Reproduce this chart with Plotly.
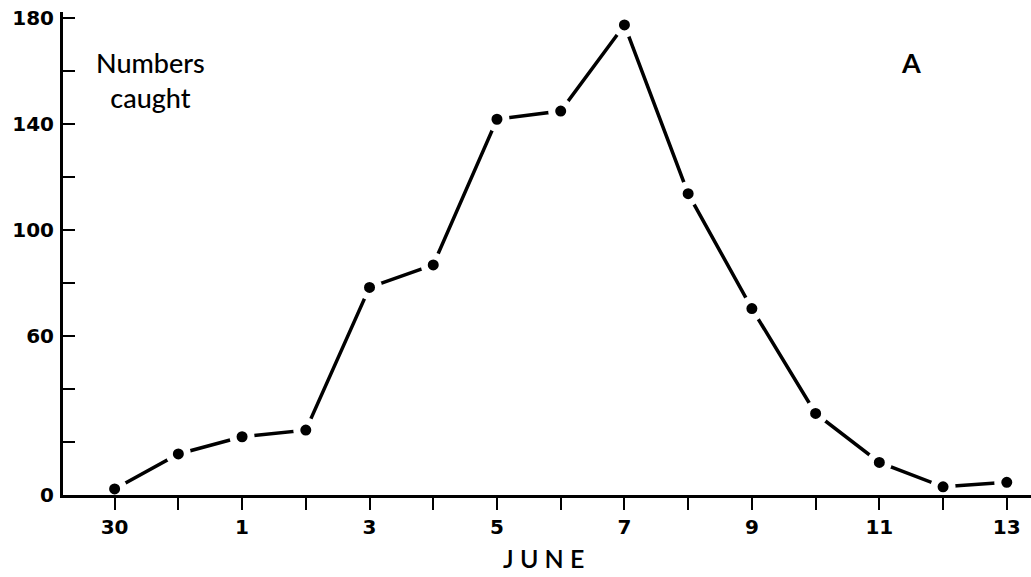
import plotly.graph_objects as go

# Data
day_labels = ["30", "31", "1", "2", "3", "4", "5", "6", "7", "8", "9", "10", "11", "12", "13"]
numbers_caught = [2.3, 15.5, 22, 24.5, 78.4, 86.9, 141.9, 145, 177.5, 113.8, 70.4, 30.8, 12.3, 3.1, 4.8]
shown_x_labels = ["30", "1", "3", "5", "7", "9", "11", "13"]
y_tick_values = [0, 20, 40, 60, 80, 100, 120, 140, 160, 180]
y_labelled = [0, 60, 100, 140, 180]

x_idx = list(range(len(day_labels)))
x_text = [d if d in shown_x_labels else "" for d in day_labels]
y_text = [str(v) if v in y_labelled else "" for v in y_tick_values]

FONT = "Lato"
NUM_FONT = "DejaVu Sans"

fig = go.Figure()
fig.add_trace(go.Scatter(
    x=x_idx, y=numbers_caught,
    mode="lines+markers",
    line=dict(color="black", width=3.5),
    marker=dict(color="black", size=18, line=dict(color="white", width=7)),
    cliponaxis=False,
    hoverinfo="skip",
))

W, H = 1031, 577
L, R, T, B = 63, 0, 12, 82
pw, ph = W - L - R, H - T - B

def px_x(px):
    return (px - L) / pw

def px_y(py):
    return (H - B - py) / ph

fig.update_layout(
    width=W, height=H,
    margin=dict(l=L, r=R, t=T, b=B, autoexpand=False),
    paper_bgcolor="white", plot_bgcolor="white",
    showlegend=False,
    font=dict(family=FONT, color="black"),
    xaxis=dict(
        range=[-0.81, 14.38],
        tickvals=x_idx, ticktext=x_text,
        showline=True, linecolor="black", linewidth=3,
        ticks="outside", ticklen=12, tickwidth=2, tickcolor="black",
        showgrid=False, zeroline=False, automargin=False,
        tickfont=dict(family=NUM_FONT, size=20, color="black", weight="bold"),
    ),
    yaxis=dict(
        range=[0, 182.4],
        tickvals=y_tick_values, ticktext=y_text,
        showline=True, linecolor="black", linewidth=3,
        ticks="inside", ticklen=12, tickwidth=2, tickcolor="black",
        showgrid=False, zeroline=False, automargin=False,
        tickfont=dict(family=NUM_FONT, size=20, color="black", weight="bold"),
        ticklabelstandoff=2,
    ),
    annotations=[
        dict(text="Numbers<br>caught", xref="paper", yref="paper",
             x=px_x(150), y=px_y(80), xanchor="center", yanchor="middle",
             showarrow=False, align="center",
             font=dict(family=FONT, size=27, color="black", weight=500)),
        dict(text="A", xref="paper", yref="paper",
             x=px_x(911), y=px_y(63), xanchor="center", yanchor="middle",
             showarrow=False, font=dict(family=FONT, size=27, color="black", weight="bold")),
        dict(text="J U N E", xref="paper", yref="paper",
             x=px_x(543), y=px_y(558), xanchor="center", yanchor="middle",
             showarrow=False, font=dict(family=FONT, size=25, color="black", weight=600)),
    ],
)

fig.write_html(
    "out.html",
    config={"displayModeBar": False, "staticPlot": True},
    post_script="document.body.style.margin='0px';document.body.style.overflow='hidden';",
)
